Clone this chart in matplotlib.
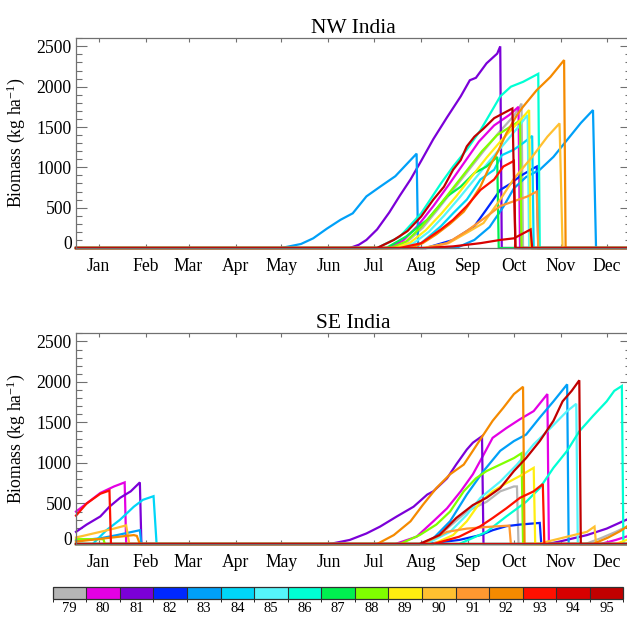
import numpy as np
import matplotlib.pyplot as plt
import matplotlib as mpl
from matplotlib.colors import ListedColormap, BoundaryNorm
from matplotlib.ticker import FixedLocator, MultipleLocator
from matplotlib.transforms import ScaledTranslation

plt.rcParams['font.family'] = ['Liberation Serif', 'DejaVu Serif']
plt.rcParams['mathtext.fontset'] = 'custom'
plt.rcParams['mathtext.rm'] = 'Liberation Serif'
plt.rcParams['mathtext.it'] = 'Liberation Serif:italic'

# ------------------------------------------------------------
# dados (dia do ano, biomassa em kg/ha)
# ------------------------------------------------------------
anos = [79, 80, 81, 82, 83, 84, 85, 86, 87, 88, 89, 90, 91, 92, 93, 94, 95]
cores = ['#b5b5b5', '#e400e4', '#7b00d8', '#0028ff', '#00a0f8', '#00d6f8',
         '#55f5fb', '#00ffd4', '#00f050', '#80ff00', '#ffee10', '#ffc030',
         '#ff9830', '#f58a00', '#ff1000', '#d80000', '#c00000']

meses = ['Jan', 'Feb', 'Mar', 'Apr', 'May', 'Jun', 'Jul', 'Aug', 'Sep', 'Oct', 'Nov', 'Dec']
meio_mes = [15, 46, 74, 105, 135, 166, 196, 227, 258, 288, 319, 349]

# --- NW India ---
nw79_dia = [0, 208, 218, 228, 238, 248, 258, 268, 278, 288, 293, 294, 365]
nw79_bio = [0, 0, 80, 250, 480, 720, 960, 1200, 1430, 1640, 1790, 0, 0]
nw80_dia = [0, 205, 215, 225, 235, 245, 255, 265, 275, 285, 291, 292, 365]
nw80_bio = [0, 0, 90, 280, 520, 780, 1050, 1320, 1520, 1650, 1750, 0, 0]
nw81_dia = [0, 180, 186, 191, 198, 206, 213, 220, 227, 235, 244, 253, 259, 263, 270, 277, 279, 280, 365]
nw81_bio = [0, 0, 40, 100, 230, 440, 650, 850, 1080, 1350, 1620, 1880, 2080, 2110, 2290, 2410, 2500, 0, 0]
nw82_dia = [0, 230, 248, 262, 270, 279, 286, 292, 301, 303, 304, 365]
nw82_bio = [0, 0, 100, 270, 480, 720, 800, 890, 990, 1010, 0, 0]
nw83_dia = [0, 135, 148, 156, 165, 174, 182, 191, 200, 210, 218, 224, 225,
            250, 262, 272, 281, 288, 296, 305, 314, 323, 332, 340, 342, 365]
nw83_bio = [0, 0, 50, 120, 240, 350, 430, 640, 760, 890, 1050, 1170, 0,
            0, 100, 260, 510, 740, 880, 970, 1130, 1340, 1550, 1710, 0, 0]
nw84_dia = [0, 218, 227, 240, 248, 257, 266, 275, 280, 288, 294, 300, 301, 365]
nw84_bio = [0, 0, 60, 270, 430, 600, 850, 970, 1150, 1220, 1300, 1390, 0, 0]
nw85_dia = [0, 212, 222, 232, 242, 252, 262, 272, 282, 290, 297, 298, 365]
nw85_bio = [0, 0, 60, 200, 400, 620, 850, 1080, 1300, 1480, 1650, 0, 0]
nw86_dia = [0, 198, 213, 227, 240, 248, 257, 266, 275, 279, 286, 294, 304, 305, 365]
nw86_bio = [0, 0, 140, 430, 800, 1010, 1220, 1460, 1750, 1880, 2000, 2060, 2160, 0, 0]
nw87_dia = [0, 204, 217, 231, 244, 253, 262, 270, 277, 278, 365]
nw87_bio = [0, 0, 140, 350, 640, 760, 930, 1010, 1130, 0, 0]
nw88_dia = [0, 207, 217, 227, 237, 247, 257, 267, 277, 287, 292, 293, 365]
nw88_bio = [0, 0, 80, 260, 480, 720, 960, 1200, 1400, 1520, 1580, 0, 0]
nw89_dia = [0, 210, 220, 230, 240, 250, 260, 270, 280, 290, 298, 299, 365]
nw89_bio = [0, 0, 70, 220, 420, 640, 880, 1120, 1340, 1540, 1710, 0, 0]
nw90_dia = [0, 228, 245, 258, 268, 279, 288, 300, 310, 318, 320, 365]
nw90_bio = [0, 0, 60, 200, 310, 600, 860, 1130, 1380, 1545, 0, 0]
nw91_dia = [0, 231, 244, 257, 270, 279, 288, 297, 303, 304, 365]
nw91_bio = [0, 0, 60, 210, 390, 520, 580, 640, 700, 0, 0]
nw92_dia = [0, 220, 228, 237, 246, 255, 259, 266, 272, 278, 283, 290, 294, 303, 312, 321, 322, 365]
nw92_bio = [0, 0, 60, 170, 300, 450, 556, 762, 1009, 1215, 1421, 1648, 1751, 1957, 2121, 2330, 0, 0]
nw93_dia = [0, 213, 227, 240, 248, 257, 266, 275, 281, 288, 289, 365]
nw93_bio = [0, 0, 60, 230, 350, 520, 720, 850, 1010, 1080, 0, 0]
nw94_dia = [0, 230, 248, 266, 279, 288, 296, 299, 300, 365]
nw94_bio = [0, 0, 20, 60, 100, 120, 200, 230, 0, 0]
nw95_dia = [0, 198, 209, 218, 227, 235, 242, 248, 253, 257, 262, 268, 275, 281, 287, 289, 365]
nw95_bio = [0, 0, 100, 210, 390, 600, 760, 970, 1090, 1260, 1380, 1480, 1610, 1670, 1730, 0, 0]

# --- SE India ---
se79_dia = [0, 231, 244, 257, 270, 279, 288, 290, 291, 335, 345, 355, 365]
se79_bio = [0, 0, 190, 400, 520, 650, 710, 710, 0, 0, 70, 150, 240]
se80_dia = [0, 7, 16, 25, 32, 33, 210, 224, 235, 244, 253, 261, 268, 274, 283, 292, 301, 310, 311, 345, 355, 365]
se80_bio = [400, 500, 630, 710, 760, 0, 0, 90, 280, 440, 650, 860, 1100, 1310, 1430, 1540, 1640, 1850, 0, 0, 50, 110]
se81_dia = [0, 7, 16, 22, 29, 36, 42, 43, 165, 169, 180, 191, 200, 211, 222, 231, 235, 244, 250, 257, 261, 267, 268,
            310, 318, 336, 349, 362, 365]
se81_bio = [150, 240, 340, 460, 570, 650, 760, 0, 0, 8, 50, 130, 215, 340, 460, 610, 650, 810, 980, 1165, 1250, 1330, 0,
            0, 30, 110, 190, 300, 320]
se82_dia = [0, 230, 252, 266, 274, 283, 292, 305, 306, 365]
se82_bio = [0, 0, 50, 110, 170, 220, 240, 260, 0, 0]
se83_dia = [0, 16, 27, 42, 43, 226, 235, 246, 257, 268, 279, 288, 296, 305, 314, 323, 324, 365]
se83_bio = [40, 70, 110, 170, 0, 0, 70, 280, 610, 900, 1150, 1270, 1350, 1560, 1760, 1970, 0, 0]
se84_dia = [0, 11, 20, 29, 38, 44, 51, 53, 365]
se84_bio = [0, 0, 170, 300, 460, 545, 590, 0, 0]
se85_dia = [0, 230, 246, 257, 266, 279, 290, 301, 312, 323, 329, 330, 365]
se85_bio = [0, 0, 150, 360, 570, 770, 980, 1230, 1430, 1640, 1730, 0, 0]
se86_dia = [0, 252, 270, 283, 296, 305, 314, 323, 331, 340, 349, 354, 359, 360, 365]
se86_bio = [0, 0, 150, 340, 520, 690, 940, 1150, 1390, 1580, 1760, 1890, 1950, 0, 0]
se87_dia = [0, 365]
se87_bio = [0, 0]
se88_dia = [0, 18, 19, 213, 226, 237, 246, 255, 263, 270, 279, 288, 293, 294, 365]
se88_bio = [60, 60, 0, 0, 110, 240, 400, 650, 810, 900, 980, 1060, 1120, 0, 0]
se89_dia = [0, 235, 248, 257, 266, 274, 283, 292, 301, 302, 355, 365]
se89_bio = [0, 0, 110, 280, 520, 650, 750, 840, 940, 0, 0, 70]
se90_dia = [0, 16, 25, 33, 35, 305, 310, 323, 336, 341, 342, 365]
se90_bio = [80, 150, 190, 230, 0, 0, 30, 90, 150, 215, 0, 0]
se91_dia = [0, 226, 231, 244, 257, 270, 283, 285, 286, 365]
se91_bio = [0, 0, 30, 150, 190, 210, 225, 225, 0, 0]
se92_dia = [0, 38, 40, 42, 198, 209, 220, 228, 237, 246, 255, 261, 268, 274, 281, 288, 294, 295, 340, 350, 358, 365]
se92_bio = [30, 110, 100, 0, 0, 110, 280, 480, 690, 860, 980, 1150, 1350, 1520, 1680, 1850, 1940, 0, 0, 80, 160, 250]
se93_dia = [0, 7, 16, 22, 23, 235, 252, 266, 274, 283, 292, 301, 307, 308, 365]
se93_bio = [350, 500, 620, 660, 0, 0, 90, 220, 320, 440, 570, 650, 740, 0, 0]
se94_dia = [0, 365]
se94_bio = [0, 0]
se95_dia = [0, 226, 239, 250, 261, 270, 279, 288, 296, 305, 314, 320, 326, 331, 332, 365]
se95_bio = [0, 0, 110, 320, 480, 570, 690, 900, 1060, 1270, 1520, 1760, 1890, 2020, 0, 0]

nw = [(nw79_dia, nw79_bio), (nw80_dia, nw80_bio), (nw81_dia, nw81_bio), (nw82_dia, nw82_bio),
      (nw83_dia, nw83_bio), (nw84_dia, nw84_bio), (nw85_dia, nw85_bio), (nw86_dia, nw86_bio),
      (nw87_dia, nw87_bio), (nw88_dia, nw88_bio), (nw89_dia, nw89_bio), (nw90_dia, nw90_bio),
      (nw91_dia, nw91_bio), (nw92_dia, nw92_bio), (nw93_dia, nw93_bio), (nw94_dia, nw94_bio),
      (nw95_dia, nw95_bio)]
se = [(se79_dia, se79_bio), (se80_dia, se80_bio), (se81_dia, se81_bio), (se82_dia, se82_bio),
      (se83_dia, se83_bio), (se84_dia, se84_bio), (se85_dia, se85_bio), (se86_dia, se86_bio),
      (se87_dia, se87_bio), (se88_dia, se88_bio), (se89_dia, se89_bio), (se90_dia, se90_bio),
      (se91_dia, se91_bio), (se92_dia, se92_bio), (se93_dia, se93_bio), (se94_dia, se94_bio),
      (se95_dia, se95_bio)]

# ------------------------------------------------------------
# figura
# ------------------------------------------------------------
W, H = 627, 619
fig = plt.figure(figsize=(W / 100, H / 100), dpi=100)

def caixa(x0, y0, x1, y1):
    # pixels (topo-esquerda) -> coordenadas da figura
    return [x0 / W, 1 - y1 / H, (x1 - x0) / W, (y1 - y0) / H]

ax1 = fig.add_axes(caixa(76, 38.3, 631, 248))
ax2 = fig.add_axes(caixa(76, 333.3, 631, 544))
cinza = '#707070'

for ax, dados, titulo in [(ax1, nw, 'NW India'), (ax2, se, 'SE India')]:
    for (d, b), c in zip(dados, cores):
        ax.plot(d, b, color=c, lw=1.6, clip_on=False, solid_joinstyle='miter')
    ax.set_xlim(0, 365)
    ax.set_ylim(0, 2600)
    ax.set_title(titulo, fontsize=15.5, pad=4)
    ax.set_ylabel('Biomass (kg ha$^{-1}$)', fontsize=12.7)
    ax.yaxis.set_label_coords(-0.088, 0.5)
    ax.xaxis.set_major_locator(FixedLocator(meio_mes))
    ax.set_xticklabels(meses)
    ax.yaxis.set_major_locator(FixedLocator([0, 500, 1000, 1500, 2000, 2500]))
    ax.yaxis.set_minor_locator(MultipleLocator(100))
    ax.tick_params(axis='x', which='major', direction='in', top=True, bottom=True,
                   length=3, width=0.8, color=cinza, labelsize=12.7, pad=7)
    ax.tick_params(axis='y', which='major', direction='in', left=True, right=True,
                   length=8, width=0.8, color=cinza, labelsize=12.7, pad=3)
    ax.tick_params(axis='y', which='minor', direction='in', left=True, right=True,
                   length=4, width=0.8, color=cinza)
    for s in ax.spines.values():
        s.set_color(cinza)
        s.set_linewidth(0.9)
    # rotulo "0" levemente acima, como no original
    lab = ax.yaxis.get_major_ticks()[0].label1
    lab.set_transform(lab.get_transform() + ScaledTranslation(0, 4 / 72, fig.dpi_scale_trans))

# barra de cores dos anos
cax = fig.add_axes(caixa(52.7, 586.7, 623.5, 599))
cmap = ListedColormap(cores)
norm = BoundaryNorm(np.arange(len(anos) + 1) - 0.5, cmap.N)
sm = mpl.cm.ScalarMappable(norm=norm, cmap=cmap)
cb = fig.colorbar(sm, cax=cax, orientation='horizontal', drawedges=True,
                  ticks=np.arange(len(anos)))
cb.set_ticklabels([str(a) for a in anos])
cb.ax.tick_params(length=0, labelsize=10.5, pad=2)
cb.outline.set_edgecolor('#303030')
cb.outline.set_linewidth(0.9)
cb.dividers.set_color('#303030')
cb.dividers.set_linewidth(0.8)

fig.savefig('out.png', dpi=100)
